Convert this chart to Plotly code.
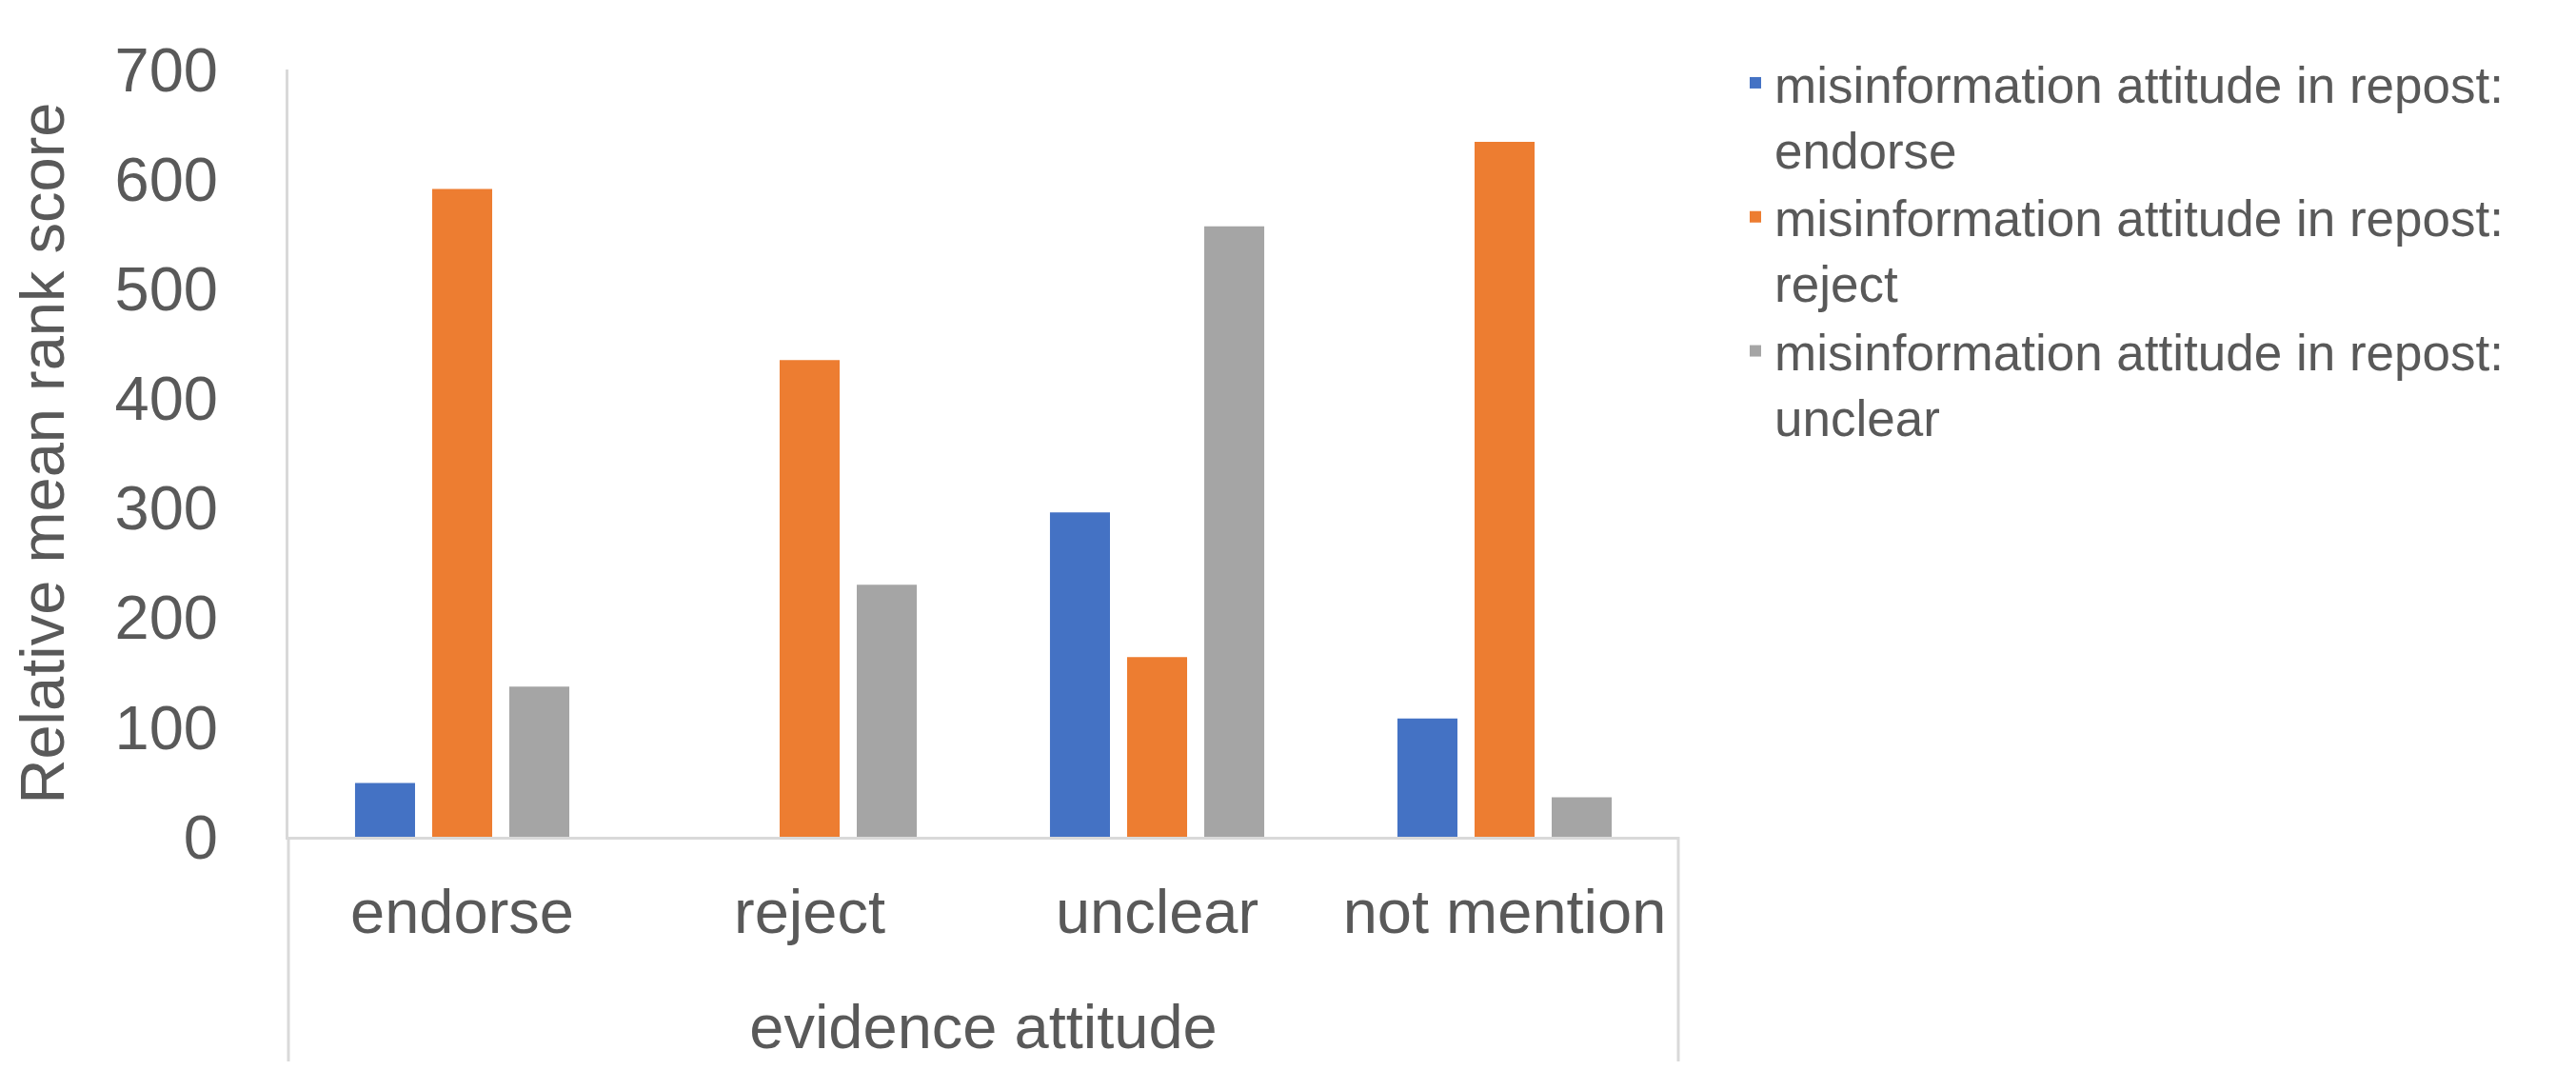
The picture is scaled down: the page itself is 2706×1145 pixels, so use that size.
import plotly.graph_objects as go

categories = ["endorse", "reject", "unclear", "not mention"]
series_names = [
    "misinformation attitude in repost:<br>endorse",
    "misinformation attitude in repost:<br>reject",
    "misinformation attitude in repost:<br>unclear",
]
endorse_vals = [49, 0, 296, 108]
reject_vals = [591, 435, 164, 634]
unclear_vals = [137, 230, 557, 36]
colors = ["#4472C4", "#ED7D31", "#A5A5A5"]

y_ticks = [0, 100, 200, 300, 400, 500, 600, 700]

FONT = "Liberation Sans, Arial, sans-serif"
TXT = "#595959"
AX = "#D9D9D9"

W, H = 2706, 1145
L, R, T, B = 295, 951, 65, 274

fig = go.Figure()
for name, vals, col in zip(series_names, [endorse_vals, reject_vals, unclear_vals], colors):
    fig.add_trace(go.Bar(x=categories, y=vals, name=name, marker=dict(color=col, line=dict(width=0))))

plot_h = H - T - B
ext = 236 / plot_h

fig.update_layout(
    width=W, height=H,
    margin=dict(l=L, r=R, t=T, b=B, autoexpand=False),
    plot_bgcolor="white", paper_bgcolor="white",
    font=dict(family=FONT, color=TXT, size=65),
    barmode="group", bargap=0.334, bargroupgap=0.222,
    legend=dict(
        xref="container", yref="container",
        x=1816 / W, y=1 - 38 / H, xanchor="left", yanchor="top",
        font=dict(size=53, color=TXT, family=FONT),
        valign="top", tracegroupgap=0, itemclick=False,
    ),
    xaxis=dict(
        showline=True, linecolor=AX, linewidth=3, ticks="",
        showgrid=False, tickfont=dict(size=65), ticklabelstandoff=20,
        title=dict(text="evidence attitude", font=dict(size=65), standoff=63),
    ),
    yaxis=dict(
        range=[0, 700], tickvals=y_ticks, ticktext=[str(v) for v in y_ticks],
        showline=True, linecolor=AX, linewidth=3, ticks="",
        showgrid=False, zeroline=False, tickfont=dict(size=65), ticklabelstandoff=58,
        title=dict(text="Relative mean rank score", font=dict(size=65), standoff=41),
    ),
    shapes=[
        dict(type="line", xref="paper", yref="paper", x0=0, x1=0, y0=0, y1=-ext,
             line=dict(color=AX, width=3)),
        dict(type="line", xref="paper", yref="paper", x0=1, x1=1, y0=0, y1=-ext,
             line=dict(color=AX, width=3)),
    ],
)

fig.write_html("out.html")
